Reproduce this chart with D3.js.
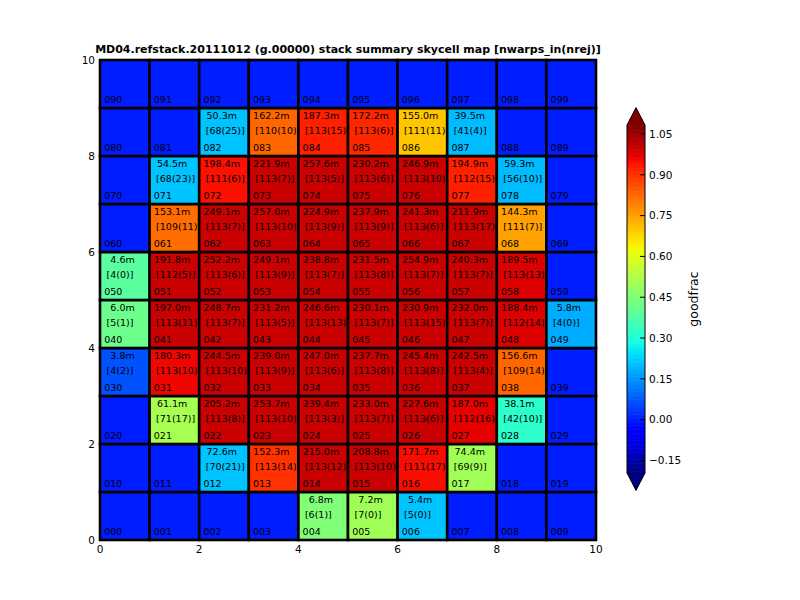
<!DOCTYPE html>
<html><head><meta charset="utf-8">
<script src="https://cdn.jsdelivr.net/npm/d3@7"></script>
<style>
body{margin:0;background:#fff;}
text{font-family:"DejaVu Sans",sans-serif;}
</style></head>
<body><svg id="c" width="800" height="600"></svg>
<script>
const title = "MD04.refstack.20111012 (g.00000) stack summary skycell map [nwarps_in(nrej)]";
const cbLabel = "goodfrac";
const axisTicks = [0,2,4,6,8,10];
const cbTicks = [-0.15,0.00,0.15,0.30,0.45,0.60,0.75,0.90,1.05];
const cbDomain = [-0.196, 1.083];

// cells 000..099, index = row*10 + col (row 0 at bottom)
const minutes = [
 null,null,null,null,6.8,7.2,5.4,null,null,null,
 null,null,72.6,152.3,215.0,208.8,171.7,74.4,null,null,
 null,61.1,205.2,253.7,239.4,233.0,227.6,187.0,38.1,null,
 3.8,180.3,244.5,239.0,247.0,237.7,245.4,242.5,156.6,null,
 6.0,197.0,248.7,231.2,246.6,230.1,230.9,232.0,188.4,5.8,
 4.6,191.8,252.2,249.1,238.8,231.5,254.9,240.3,189.5,null,
 null,153.1,249.1,257.0,224.9,237.9,241.3,211.9,144.3,null,
 null,54.5,198.4,221.9,257.6,230.2,246.9,194.9,59.3,null,
 null,null,50.3,162.2,187.3,172.2,155.0,39.5,null,null,
 null,null,null,null,null,null,null,null,null,null
];
const nwarps = [
 0,0,0,0,6,7,5,0,0,0,
 0,0,70,113,113,113,111,69,0,0,
 0,71,113,113,113,113,113,112,42,0,
 4,113,113,113,113,113,113,113,109,0,
 5,113,113,113,113,113,113,113,112,4,
 4,112,113,113,113,113,113,113,113,0,
 0,109,113,113,113,113,113,113,111,0,
 0,68,111,113,113,113,113,112,56,0,
 0,0,68,110,113,113,111,41,0,0,
 0,0,0,0,0,0,0,0,0,0
];
const nrej = [
 0,0,0,0,1,0,0,0,0,0,
 0,0,21,14,12,10,17,9,0,0,
 0,17,8,10,3,7,6,16,10,0,
 2,10,10,9,6,8,8,4,14,0,
 1,11,7,5,13,7,15,7,14,0,
 0,5,6,9,7,8,7,7,13,0,
 0,11,7,10,9,9,6,17,7,0,
 0,23,6,7,5,6,10,15,10,0,
 0,0,25,10,15,6,11,4,0,0,
 0,0,0,0,0,0,0,0,0,0
];
const goodfrac = [
 0,0,0,0,0.45,0.50,0.21,0,0,0,
 0,0,0.21,0.90,1.0,1.0,0.95,0.50,0,0,
 0,0.51,1.0,1.0,1.0,1.0,1.0,0.97,0.32,0,
 0.065,0.96,1.0,1.0,1.0,1.0,1.0,1.0,0.83,0,
 0.42,1.0,1.0,1.0,1.0,1.0,1.0,1.0,0.98,0.18,
 0.39,1.0,1.0,1.0,1.0,1.0,1.0,1.0,0.98,0,
 0,0.82,1.0,1.0,1.0,1.0,1.0,1.0,0.75,0,
 0,0.21,0.946,1.0,1.0,1.0,1.0,0.925,0.20,0,
 0,0,0.21,0.83,0.925,0.915,0.70,0.20,0,0,
 0,0,0,0,0,0,0,0,0,0
];

// jet colormap (matplotlib segment data)
const jr = d3.scaleLinear().domain([0,0.35,0.66,0.89,1]).range([0,0,1,1,0.5]).clamp(true);
const jg = d3.scaleLinear().domain([0,0.125,0.375,0.64,0.91,1]).range([0,0,1,1,0,0]).clamp(true);
const jb = d3.scaleLinear().domain([0,0.11,0.34,0.65,1]).range([0.5,1,1,0,0]).clamp(true);
function jet(t){ t=Math.max(0,Math.min(1,t)); return d3.rgb(jr(t)*255, jg(t)*255, jb(t)*255).toString(); }
const norm = d3.scaleLinear().domain(cbDomain).range([0,1]);
const color = v => jet(norm(v));

const svg = d3.select("#c");
const x = d3.scaleLinear().domain([0,10]).range([100,596]);
const y = d3.scaleLinear().domain([0,10]).range([540,60]);

// title
svg.append("text").attr("x",(x(0)+x(10))/2).attr("y",53).attr("text-anchor","middle")
  .attr("font-size","11px").attr("font-weight","bold").text(title);

// axes frame
svg.append("rect").attr("x",x(0)).attr("y",y(10)).attr("width",x(10)-x(0)).attr("height",y(0)-y(10))
  .attr("fill","none").attr("stroke","#000").attr("stroke-width",1);

// cells
const cells = d3.range(100).map(i => ({i, col:i%10, row:Math.floor(i/10), id:d3.format("03d")(i),
   m:minutes[i], n:nwarps[i], r:nrej[i], g:goodfrac[i]}));
const fs = 9.5;
cells.forEach(c => {
  const g = svg.append("g");
  g.append("rect").attr("x",x(c.col)).attr("y",y(c.row+1))
    .attr("width",x(c.col+1)-x(c.col)).attr("height",y(c.row)-y(c.row+1))
    .attr("fill",color(c.g)).attr("stroke","#000").attr("stroke-width",2.6);
  if(c.m!==null){
    g.append("text").attr("x",x(c.col)+1.3).attr("y",y(c.row+0.765))
      .attr("xml:space","preserve").style("white-space","pre")
      .attr("font-size",fs+"px").attr("fill","#000")
      .text(c.m.toFixed(1).padStart(5," ").replace(/^ /,"  ").padStart(6," ") + "m");
    g.append("text").attr("x",x(c.col)+6.5).attr("y",y(c.row+0.45))
      .attr("font-size",fs+"px").attr("fill","#000")
      .text("["+c.n+"("+c.r+")]");
  }
  g.append("text").attr("x",x(c.col)+4.2).attr("y",y(c.row+0.1))
    .attr("font-size",fs+"px").attr("fill","#000").text(c.id);
});

// tick labels
svg.append("g").selectAll("text").data(axisTicks).join("text")
  .attr("x",d=>x(d)).attr("y",552.5).attr("text-anchor","middle").attr("font-size","10.5px").text(d=>d);
svg.append("g").selectAll("text").data(axisTicks).join("text")
  .attr("x",95).attr("y",d=>y(d)+3.8).attr("text-anchor","end").attr("font-size","10.5px").text(d=>d);

// colorbar
const cbX0 = 627, cbX1 = 645;
const cy = d3.scaleLinear().domain(cbDomain).range([473,125]);
const nStripes = 256;
const stripes = d3.range(nStripes).map(k => ({
  v0: cbDomain[0] + (cbDomain[1]-cbDomain[0])*k/nStripes,
  v1: cbDomain[0] + (cbDomain[1]-cbDomain[0])*(k+1)/nStripes }));
svg.append("g").selectAll("rect").data(stripes).join("rect")
  .attr("x",cbX0).attr("width",cbX1-cbX0)
  .attr("y",d=>cy(d.v1)-0.3).attr("height",d=>cy(d.v0)-cy(d.v1)+0.6)
  .attr("fill",d=>jet(norm((d.v0+d.v1)/2)));
const cxm = (cbX0+cbX1)/2;
const ext = (cy.range()[0]-cy.range()[1])*0.05;
svg.append("path").attr("d",`M${cbX0},${cy(cbDomain[1])}L${cxm},${cy(cbDomain[1])-ext}L${cbX1},${cy(cbDomain[1])}Z`)
  .attr("fill",jet(1));
svg.append("path").attr("d",`M${cbX0},${cy(cbDomain[0])}L${cxm},${cy(cbDomain[0])+ext}L${cbX1},${cy(cbDomain[0])}Z`)
  .attr("fill",jet(0));
svg.append("path")
  .attr("d",`M${cbX0},${cy(cbDomain[1])}L${cxm},${cy(cbDomain[1])-ext}L${cbX1},${cy(cbDomain[1])}L${cbX1},${cy(cbDomain[0])}L${cxm},${cy(cbDomain[0])+ext}L${cbX0},${cy(cbDomain[0])}Z`)
  .attr("fill","none").attr("stroke","#000").attr("stroke-width",1);
const tg = svg.append("g");
tg.selectAll("line").data(cbTicks).join("line")
  .attr("x1",cbX1-5).attr("x2",cbX1).attr("y1",d=>cy(d)).attr("y2",d=>cy(d))
  .attr("stroke","#000").attr("stroke-width",1);
tg.selectAll("text").data(cbTicks).join("text")
  .attr("x",cbX1+4).attr("y",d=>cy(d)+3.8).attr("font-size","10.5px")
  .text(d=>d3.format(".2f")(d).replace("-","\u2212"));
svg.append("text").attr("transform",`translate(698,${(cy.range()[0]+cy.range()[1])/2}) rotate(-90)`)
  .attr("text-anchor","middle").attr("font-size","12.5px").text(cbLabel);
</script></body></html>
